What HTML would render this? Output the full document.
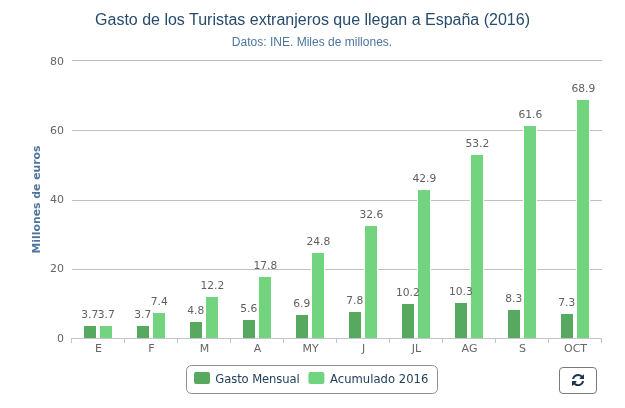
<!DOCTYPE html>
<html lang="es"><head><meta charset="utf-8"><title>Gasto de los Turistas extranjeros</title>
<style>
html,body{margin:0;padding:0;background:#fff;}
body{width:625px;height:408px;overflow:hidden;position:relative;font-family:"Liberation Sans",sans-serif;}
svg{position:absolute;left:0;top:0;display:block;}
.lab{font-family:"DejaVu Sans", "Liberation Sans", sans-serif;font-size:11px;fill:#666;}
.dl{font-family:"DejaVu Sans", "Liberation Sans", sans-serif;font-size:10.7px;fill:#606060;}
.btn{position:absolute;left:559px;top:367px;width:36px;height:25px;border:1px solid #7a7a7a;border-radius:4px;background:#fff;box-sizing:content-box;}
</style></head><body>
<svg width="625" height="408" viewBox="0 0 625 408">
<rect width="625" height="408" fill="#fff"/>
<text x="312.5" y="25" text-anchor="middle" font-family="Liberation Sans, sans-serif" font-size="16" fill="#274b6d">Gasto de los Turistas extranjeros que llegan a España (2016)</text>
<text x="312" y="46" text-anchor="middle" font-family="Liberation Sans, sans-serif" font-size="12" fill="#4d759e" textLength="160.4" lengthAdjust="spacing">Datos: INE. Miles de millones.</text>
<g fill="#c0c0c0">
<rect x="72" y="60" width="530" height="1"/>
<rect x="72" y="130" width="530" height="1"/>
<rect x="72" y="200" width="530" height="1"/>
<rect x="72" y="269" width="530" height="1"/>
</g>
<g class="lab" text-anchor="end">
<text x="64" y="341.6">0</text>
<text x="64" y="271.8">20</text>
<text x="64" y="203">40</text>
<text x="64" y="134.2">60</text>
<text x="64" y="65">80</text>
</g>
<g stroke="#fff" stroke-width="1" fill="#57a95f">
<rect x="83.5" y="325.5" width="13" height="13.0"/>
<rect x="136.5" y="325.5" width="13" height="13.0"/>
<rect x="189.5" y="321.5" width="13" height="17.0"/>
<rect x="242.5" y="319.5" width="13" height="19.0"/>
<rect x="295.5" y="314.5" width="13" height="24.0"/>
<rect x="348.5" y="311.5" width="13" height="27.0"/>
<rect x="401.5" y="303.5" width="13" height="35.0"/>
<rect x="454.5" y="302.5" width="13" height="36.0"/>
<rect x="507.5" y="309.5" width="13" height="29.0"/>
<rect x="560.5" y="313.5" width="13" height="25.0"/>
</g>
<g stroke="#fff" stroke-width="1" fill="#72d47e">
<rect x="99.5" y="325.5" width="13" height="13.0"/>
<rect x="152.5" y="312.5" width="13" height="26.0"/>
<rect x="205.5" y="296.5" width="13" height="42.0"/>
<rect x="258.5" y="276.5" width="13" height="62.0"/>
<rect x="311.5" y="252.5" width="13" height="86.0"/>
<rect x="364.5" y="225.5" width="13" height="113.0"/>
<rect x="417.5" y="189.5" width="13" height="149.0"/>
<rect x="470.5" y="154.5" width="13" height="184.0"/>
<rect x="523.5" y="125.5" width="13" height="213.0"/>
<rect x="576.5" y="99.5" width="13" height="239.0"/>
</g>
<g fill="#bfc4cf">
<rect x="71" y="338" width="531" height="1"/>
<rect x="71" y="338" width="1" height="5"/>
<rect x="124" y="338" width="1" height="5"/>
<rect x="177" y="338" width="1" height="5"/>
<rect x="230" y="338" width="1" height="5"/>
<rect x="283" y="338" width="1" height="5"/>
<rect x="336" y="338" width="1" height="5"/>
<rect x="389" y="338" width="1" height="5"/>
<rect x="442" y="338" width="1" height="5"/>
<rect x="495" y="338" width="1" height="5"/>
<rect x="548" y="338" width="1" height="5"/>
<rect x="601" y="338" width="1" height="5"/>
</g>
<g class="dl" text-anchor="middle">
<text x="89.8" y="317.6">3.7</text>
<text x="142.8" y="317.6">3.7</text>
<text x="195.8" y="313.6">4.8</text>
<text x="248.8" y="311.6">5.6</text>
<text x="301.8" y="306.6">6.9</text>
<text x="354.8" y="303.6">7.8</text>
<text x="407.8" y="295.6">10.2</text>
<text x="460.8" y="294.6">10.3</text>
<text x="513.8" y="301.6">8.3</text>
<text x="566.8" y="305.6">7.3</text>
</g>
<g class="dl" text-anchor="middle">
<text x="106.3" y="317.6">3.7</text>
<text x="159.3" y="304.6">7.4</text>
<text x="212.3" y="288.6">12.2</text>
<text x="265.3" y="268.6">17.8</text>
<text x="318.3" y="244.6">24.8</text>
<text x="371.3" y="217.6">32.6</text>
<text x="424.3" y="181.6">42.9</text>
<text x="477.3" y="146.6">53.2</text>
<text x="530.3" y="117.6">61.6</text>
<text x="583.3" y="91.6">68.9</text>
</g>
<g class="lab" text-anchor="middle">
<text x="98.5" y="352">E</text>
<text x="151.5" y="352">F</text>
<text x="204.5" y="352">M</text>
<text x="257.5" y="352">A</text>
<text x="310.5" y="352">MY</text>
<text x="363.5" y="352">J</text>
<text x="416.5" y="352">JL</text>
<text x="469.5" y="352">AG</text>
<text x="522.5" y="352">S</text>
<text x="575.5" y="352">OCT</text>
</g>
<text transform="translate(40,199.5) rotate(-90)" text-anchor="middle" font-family='DejaVu Sans, Liberation Sans, sans-serif' font-weight="bold" font-size="10.85" fill="#4d759e">Millones de euros</text>
<rect x="186.5" y="365.5" width="251" height="28" rx="5" ry="5" fill="#fff" stroke="#909090" stroke-width="1"/>
<rect x="194" y="372" width="16" height="12" rx="2" fill="#57a95f"/>
<text x="215.3" y="383" font-family='DejaVu Sans, Liberation Sans, sans-serif' font-size="11.6" fill="#22415f" textLength="84.5" lengthAdjust="spacing">Gasto Mensual</text>
<rect x="308.4" y="372" width="16" height="12" rx="2" fill="#72d47e"/>
<text x="330" y="383" font-family='DejaVu Sans, Liberation Sans, sans-serif' font-size="11.6" fill="#22415f" textLength="98.4" lengthAdjust="spacing">Acumulado 2016</text>
</svg>
<div class="btn"><svg width="12.2" height="12.2" viewBox="0 0 1536 1536" style="left:11.9px;top:6px"><path fill="#1c3352" d="M1511 928q0 5-1 7-64 268-268 434.500T764 1536q-146 0-282.500-55T238 1324l-129 129q-19 19-45 19t-45-19-19-45V960q0-26 19-45t45-19h448q26 0 45 19t19 45-19 45l-137 137q71 66 161 102t187 36q134 0 250-65t186-179q11-17 53-117 8-23 30-23h192q13 0 22.500 9.500t9.500 22.500zm25-800v448q0 26-19 45t-45 19h-448q-26 0-45-19t-19-45 19-45l138-138Q969 256 768 256q-134 0-250 65T332 500q-11 17-53 117-8 23-30 23H50q-13 0-22.500-9.500T18 608v-7q65-268 270-434.500T768 0q146 0 284 55.500T1297 212l130-129q19-19 45-19t45 19 19 45z"/></svg></div>
</body></html>
